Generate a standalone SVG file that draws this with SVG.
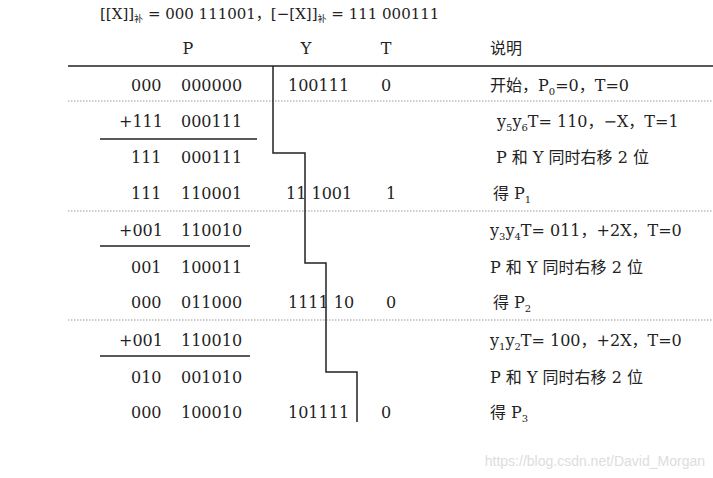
<svg xmlns="http://www.w3.org/2000/svg" width="713" height="478" viewBox="0 0 713 478">
<style>
text{font-family:"DejaVu Serif","Liberation Serif","Noto Sans CJK SC",serif;font-size:16px;fill:#222}
.m{text-anchor:middle}
.dot{stroke:#999;stroke-width:1;stroke-dasharray:1.5 1.5}
.ln{stroke:#222;stroke-width:1.5;fill:none}
</style>
<rect width="713" height="478" fill="#fff"/>
<text x="100" y="19" style="font-size:15px">[[X]]<tspan font-size="9" dy="3">补</tspan><tspan dy="-3"> = 000 111001，[−[X]]</tspan><tspan font-size="9" dy="3">补</tspan><tspan dy="-3"> = 111 000111</tspan></text>
<text x="188" y="54" class="m">P</text><text x="306" y="54" class="m">Y</text><text x="386" y="54" class="m">T</text><text x="490" y="54">说明</text>
<g id="lines">
<line x1="68" y1="66" x2="713" y2="66" class="ln"/>
<line x1="68" y1="101" x2="713" y2="101" class="dot"/>
<line x1="68" y1="211" x2="713" y2="211" class="dot"/>
<line x1="68" y1="320" x2="713" y2="320" class="dot"/>
<line x1="100" y1="139" x2="257" y2="139" class="ln"/>
<line x1="100" y1="246" x2="250" y2="246" class="ln"/>
<line x1="100" y1="356" x2="250" y2="356" class="ln"/>
<polyline points="273,66 273,153 305,153 305,263 326,263 326,372 357,372 357,422" class="ln"/>
</g>
<g id="rows">
<text x="131" y="91">000</text><text x="181" y="91">000000</text><text x="288" y="91">100111</text><text x="386" y="91" class="m">0</text><text x="490" y="91">开始，P<tspan font-size="10" dy="4">0</tspan><tspan dy="-4">=0，T=0</tspan></text>
<text x="119" y="127">+111</text><text x="181" y="127">000111</text><text x="497" y="127">y<tspan font-size="10" dy="4">5</tspan><tspan dy="-4">y</tspan><tspan font-size="10" dy="4">6</tspan><tspan dy="-4">T= 110，−X，T=1</tspan></text>
<text x="496" y="163">P 和 Y 同时右移 2 位</text><text x="131" y="163">111</text><text x="181" y="163">000111</text>
<text x="131" y="199">111</text><text x="181" y="199">110001</text><text x="286" y="199">11 1001</text><text x="391" y="199" class="m">1</text><text x="493" y="199">得 P<tspan font-size="10" dy="4">1</tspan></text>
<text x="119" y="236">+001</text><text x="181" y="236">110010</text><text x="490" y="236">y<tspan font-size="10" dy="4">3</tspan><tspan dy="-4">y</tspan><tspan font-size="10" dy="4">4</tspan><tspan dy="-4">T= 011，+2X，T=0</tspan></text>
<text x="131" y="273">001</text><text x="181" y="273">100011</text><text x="490" y="273">P 和 Y 同时右移 2 位</text>
<text x="131" y="308">000</text><text x="181" y="308">011000</text><text x="288" y="308">1111 10</text><text x="391" y="308" class="m">0</text><text x="493" y="308">得 P<tspan font-size="10" dy="4">2</tspan></text>
<text x="119" y="346">+001</text><text x="181" y="346">110010</text><text x="490" y="346">y<tspan font-size="10" dy="4">1</tspan><tspan dy="-4">y</tspan><tspan font-size="10" dy="4">2</tspan><tspan dy="-4">T= 100，+2X，T=0</tspan></text>
<text x="131" y="383">010</text><text x="181" y="383">001010</text><text x="490" y="383">P 和 Y 同时右移 2 位</text>
<text x="131" y="418">000</text><text x="181" y="418">100010</text><text x="288" y="418">101111</text><text x="386" y="418" class="m">0</text><text x="490" y="418">得 P<tspan font-size="10" dy="4">3</tspan></text>
</g>
<text x="705" y="466" text-anchor="end" style="font-family:'Liberation Sans',sans-serif;font-size:14px;fill:#ddd">https://blog.csdn.net/David_Morgan</text>
</svg>
